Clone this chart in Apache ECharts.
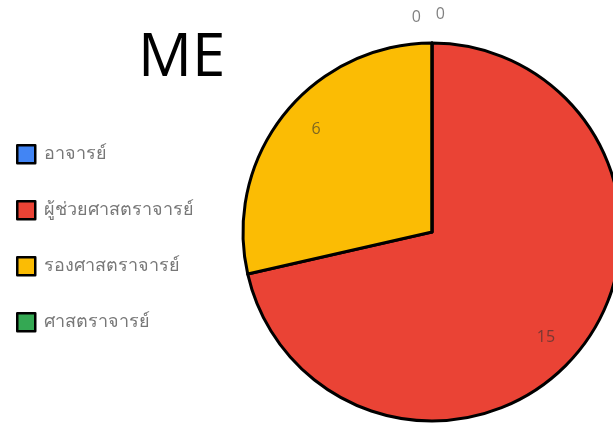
<!DOCTYPE html>
<html><head><meta charset="utf-8">
<script src="https://cdn.jsdelivr.net/npm/echarts@6/dist/echarts.min.js"></script>
<style>html,body{margin:0;padding:0;background:#fff}#c{width:613px;height:425px}</style>
</head><body><div id="c"></div>
<script>
var categories = ['อาจารย์', 'ผู้ช่วยศาสตราจารย์', 'รองศาสตราจารย์', 'ศาสตราจารย์'];
var values = [0, 15, 6, 0];
var colors = ['#4285F4', '#EA4335', '#FBBC04', '#34A853'];
var titleText = 'ME';

var chart = echarts.init(document.getElementById('c'));
var center = [432, 232];
var R = 189;
var labelColor = 'rgba(50,50,50,0.62)';
var lastIdx = values.length - 1;
var mainData = categories.map(function (n, i) {
  return { name: n, value: values[i], itemStyle: { color: colors[i] } };
});
function labelStyle(i) {
  if (values[i] !== 0) {
    var dir = i === 1 ? [-8, 8] : [6, -5];
    return { position: 'inside', offset: dir };
  }
  if (i === lastIdx) return { position: 'outside', align: 'right', padding: [0, 7, 0, 0], offset: [0, 0] };
  return { position: 'outside', align: 'left', offset: [17, -3] };
}
var labelData = categories.map(function (n, i) {
  return {
    name: n, value: values[i], label: labelStyle(i),
    labelLine: { show: false, length: 26, length2: 0 }
  };
});
chart.setOption({
  animation: false,
  color: colors,
  title: {
    text: titleText, left: 133, top: 24,
    textStyle: { fontFamily: 'Open Sans', fontSize: 60, fontWeight: 'normal', color: '#000' }
  },
  legend: {
    orient: 'vertical', left: 16, top: 144, padding: 0,
    itemWidth: 18, itemHeight: 18, itemGap: 35.5,
    icon: 'rect',
    itemStyle: { borderColor: '#000', borderWidth: 2.5 },
    textStyle: { fontFamily: 'Noto Sans, sans-serif', fontSize: 18, color: '#777', lineHeight: 20, padding: [0, 0, 0, 4] },
    data: categories
  },
  series: [{
    type: 'pie', center: center, radius: R, startAngle: 90, clockwise: true,
    silent: true, stillShowZeroSum: true, minAngle: 0,
    itemStyle: { borderColor: '#000', borderWidth: 3 },
    label: { show: false }, labelLine: { show: false },
    data: mainData
  }, {
    type: 'pie', center: center, radius: [117, R], startAngle: 90, clockwise: true,
    silent: true, avoidLabelOverlap: false, legendHoverLink: false,
    itemStyle: { color: 'rgba(0,0,0,0)', borderWidth: 0 },
    label: {
      show: true, formatter: '{c}', color: labelColor,
      fontFamily: 'Open Sans', fontSize: 16, distanceToLabelLine: 4
    },
    emphasis: { disabled: true },
    data: labelData
  }]
});
</script></body></html>
